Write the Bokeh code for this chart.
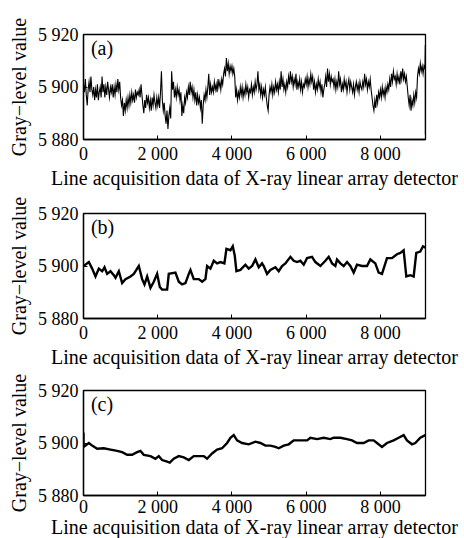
from bokeh.plotting import figure
from bokeh.layouts import column
from bokeh.models import FixedTicker, Range1d, Label
from bokeh.embed import file_html
from bokeh.resources import INLINE

# ---------------- data ----------------
x_ticks = [0, 2000, 4000, 6000, 8000]
x_tick_labels = ["0", "2 000", "4 000", "6 000", "8 000"]
y_ticks = [5880, 5900, 5920]
y_tick_labels = ["5 880", "5 900", "5 920"]

x_title = "Line acquisition data of X-ray linear array detector"
y_title = "Gray\u2212level value"
panel_names = ["(a)", "(b)", "(c)"]

# (a) raw line data (one sample every 25 lines)
x_a = list(range(0, 9201, 25)) + [9210, 9212]
gray_a = [
    5901, 5898, 5903, 5897, 5893, 5899, 5902, 5898, 5904, 5899,
    5897, 5900, 5895, 5899, 5896, 5901, 5895, 5898, 5900, 5896,
    5904, 5898, 5901, 5896, 5900, 5897, 5902, 5899, 5896, 5900,
    5898, 5901, 5896, 5900, 5897, 5901, 5898, 5903, 5899, 5902,
    5896, 5893, 5895, 5889, 5894, 5891, 5895, 5892, 5896, 5893,
    5897, 5894, 5898, 5895, 5897, 5894, 5899, 5896, 5898, 5897,
    5899, 5896, 5901, 5897, 5893, 5890, 5895, 5892, 5897, 5894,
    5896, 5892, 5895, 5891, 5896, 5893, 5897, 5894, 5892, 5896,
    5893, 5896, 5892, 5898, 5906, 5895, 5891, 5894, 5889, 5886,
    5891, 5884, 5889, 5892, 5888, 5906, 5899, 5902, 5896, 5899,
    5896, 5900, 5897, 5899, 5895, 5898, 5889, 5893, 5890, 5896,
    5894, 5898, 5896, 5900, 5897, 5902, 5898, 5900, 5896, 5899,
    5895, 5898, 5893, 5897, 5894, 5896, 5892, 5895, 5886, 5893,
    5897, 5895, 5899, 5896, 5900, 5905, 5897, 5901, 5898, 5900,
    5898, 5902, 5899, 5901, 5898, 5903, 5900, 5902, 5899, 5903,
    5901, 5905, 5907, 5904, 5911, 5906, 5909, 5905, 5908, 5906,
    5908, 5905, 5907, 5904, 5896, 5899, 5895, 5898, 5896, 5900,
    5897, 5900, 5896, 5899, 5897, 5901, 5898, 5900, 5896, 5899,
    5898, 5901, 5897, 5900, 5898, 5902, 5899, 5901, 5906, 5899,
    5901, 5897, 5900, 5896, 5899, 5897, 5900, 5896, 5893, 5891,
    5897, 5900, 5898, 5901, 5897, 5900, 5898, 5902, 5899, 5901,
    5898, 5902, 5899, 5906, 5900, 5903, 5899, 5901, 5898, 5902,
    5900, 5904, 5901, 5906, 5902, 5904, 5900, 5903, 5901, 5905,
    5899, 5902, 5900, 5903, 5899, 5902, 5898, 5901, 5900, 5903,
    5901, 5904, 5900, 5903, 5901, 5905, 5902, 5904, 5899, 5902,
    5898, 5901, 5899, 5903, 5900, 5902, 5898, 5901, 5896, 5899,
    5901, 5904, 5900, 5907, 5902, 5905, 5901, 5904, 5902, 5903,
    5900, 5903, 5899, 5902, 5900, 5906, 5901, 5903, 5898, 5901,
    5899, 5903, 5900, 5902, 5898, 5901, 5903, 5899, 5902, 5900,
    5898, 5901, 5897, 5900, 5902, 5899, 5901, 5898, 5902, 5900,
    5899, 5902, 5900, 5905, 5901, 5903, 5899, 5902, 5900, 5903,
    5899, 5896, 5893, 5891, 5895, 5892, 5897, 5894, 5898, 5896,
    5899, 5896, 5900, 5897, 5899, 5896, 5900, 5898, 5901, 5899,
    5903, 5900, 5905, 5902, 5906, 5903, 5904, 5901, 5905, 5902,
    5904, 5901, 5906, 5903, 5907, 5903, 5905, 5902, 5904, 5900,
    5896, 5893, 5897, 5891, 5895, 5893, 5897, 5894, 5898, 5896,
    5904, 5907, 5905, 5909, 5906, 5908, 5905, 5908, 5907,
    5916, 5882,
]

# (b) first filtered data
x_b = [0, 144, 233, 323, 413, 503, 566, 637, 727, 817, 862, 952, 1041, 1131,
       1266, 1355, 1445, 1490, 1580, 1643, 1715, 1805, 1894, 1984, 2056, 2118,
       2253, 2298, 2477, 2567, 2657, 2747, 2837, 2882, 2971, 3106, 3196, 3285,
       3330, 3420, 3510, 3600, 3690, 3797, 3851, 3959, 4022, 4075, 4120, 4228,
       4362, 4452, 4542, 4632, 4722, 4811, 4856, 4946, 5036, 5170, 5260, 5350,
       5440, 5575, 5664, 5754, 5844, 5934, 6024, 6158, 6248, 6383, 6517, 6607,
       6697, 6786, 6831, 6921, 7011, 7101, 7190, 7280, 7370, 7504, 7639, 7729,
       7863, 7953, 8043, 8177, 8312, 8447, 8537, 8626, 8698, 8806, 8896, 8967,
       9075, 9147, 9210]
gray_b = [5900, 5901.5, 5899, 5896, 5899, 5898, 5899.5, 5897, 5898, 5896.5,
          5895.5, 5898, 5893.5, 5895, 5896, 5897, 5899, 5900, 5895, 5893,
          5896, 5891.7, 5894, 5897, 5892, 5891, 5891, 5897, 5897.5, 5894,
          5893, 5893.5, 5897, 5898.5, 5895, 5895, 5894, 5895, 5900, 5899,
          5902, 5901, 5901.5, 5901, 5906.5, 5906, 5907.5, 5904, 5898, 5898.5,
          5900.5, 5899, 5900, 5902.5, 5899.5, 5901, 5900, 5897, 5898.5, 5899.5,
          5898, 5900, 5901, 5903.5, 5902, 5901.5, 5902, 5900.5, 5903, 5903.5,
          5901.5, 5900, 5902, 5903.5, 5901, 5900, 5902.5, 5901, 5900, 5901.5,
          5900, 5897.5, 5900.5, 5900, 5900, 5902.5, 5901, 5897.5, 5897, 5903,
          5903, 5904.5, 5905, 5906, 5896, 5896.5, 5896, 5905, 5905.5, 5907.5,
          5907]

# (c) second filtered data
x_c = [0, 0, 54, 144, 233, 368, 547, 727, 906, 1041, 1176, 1310, 1445, 1535,
       1625, 1805, 1939, 2029, 2118, 2235, 2325, 2432, 2567, 2702, 2837, 2971,
       3106, 3241, 3330, 3465, 3600, 3734, 3869, 3959, 4048, 4138, 4273, 4452,
       4632, 4767, 4901, 5036, 5170, 5260, 5395, 5530, 5664, 5844, 6024, 6113,
       6293, 6472, 6652, 6742, 6921, 7101, 7235, 7370, 7549, 7684, 7818, 7908,
       8043, 8177, 8357, 8492, 8626, 8716, 8851, 8940, 9075, 9210]
gray_c = [5904, 5898.5, 5899, 5900, 5899, 5897.8, 5898, 5897.5, 5897, 5896.5,
          5895.5, 5895.5, 5896.5, 5897, 5895.5, 5895, 5894, 5895, 5893.5, 5893,
          5892.5, 5894, 5895, 5894.5, 5893.5, 5895, 5895, 5895, 5894, 5896,
          5897.5, 5898, 5900, 5902, 5903, 5901, 5900, 5899.5, 5900.5, 5900,
          5899, 5899, 5898.5, 5898, 5899, 5899.5, 5901, 5901, 5901, 5902,
          5901.5, 5902, 5901.5, 5902, 5902, 5901.5, 5901, 5900, 5900, 5901,
          5901, 5900, 5898.5, 5900, 5901, 5902, 5903, 5901, 5899.5, 5900,
          5902, 5903]

SERIF = "Liberation Serif"


def make_panel(xs, ys, name, lw, top, bottom, lab_off, title_off):
    p = figure(output_backend="svg", toolbar_location=None,
               frame_width=342, frame_height=105,
               min_border_left=83, min_border_right=39,
               min_border_top=top, min_border_bottom=bottom,
               x_range=Range1d(0, 9215), y_range=Range1d(5880, 5920))
    p.line(xs, ys, line_color="black", line_width=lw, line_join="miter")
    p.grid.visible = False
    p.outline_line_color = "black"
    p.outline_line_width = 1.3
    p.background_fill_color = "white"
    p.border_fill_color = "white"

    p.xaxis.ticker = FixedTicker(ticks=x_ticks)
    p.xaxis.major_label_overrides = dict(zip(x_ticks, x_tick_labels))
    p.yaxis.ticker = FixedTicker(ticks=y_ticks)
    p.yaxis.major_label_overrides = dict(zip(y_ticks, y_tick_labels))
    p.xaxis.axis_label = x_title
    p.yaxis.axis_label = y_title
    for ax in (p.xaxis, p.yaxis):
        ax.axis_line_color = "black"
        ax.axis_line_width = 1.3
        ax.major_tick_in = 4
        ax.major_tick_out = 0
        ax.minor_tick_line_color = None
        ax.major_tick_line_color = "black"
        ax.major_label_text_font = SERIF
        ax.major_label_text_font_size = "18px"
        ax.major_label_text_color = "black"
        ax.axis_label_text_font = SERIF
        ax.axis_label_text_font_style = "normal"
        ax.axis_label_text_color = "black"
    p.xaxis.axis_label_text_font_size = "20px"
    p.yaxis.axis_label_text_font_size = "20px"
    p.xaxis.major_label_standoff = lab_off
    p.xaxis.axis_label_standoff = title_off
    p.yaxis.major_label_standoff = 5
    p.yaxis.axis_label_standoff = 5
    p.add_layout(Label(x=200, y=5910.5, text=name, text_font=SERIF,
                       text_font_size="20px", text_color="black"))
    return p


pa = make_panel(x_a, gray_a, panel_names[0], 1.1, 34, 50, 4, 0)
pb = make_panel(x_b, gray_b, panel_names[1], 2.4, 22, 50, 4, 0)
pc = make_panel(x_c, gray_c, panel_names[2], 2.4, 20, 47, 1, -4)

layout = column(pa, pb, pc, spacing=0)
open("out.html", "w").write(file_html(layout, INLINE))
